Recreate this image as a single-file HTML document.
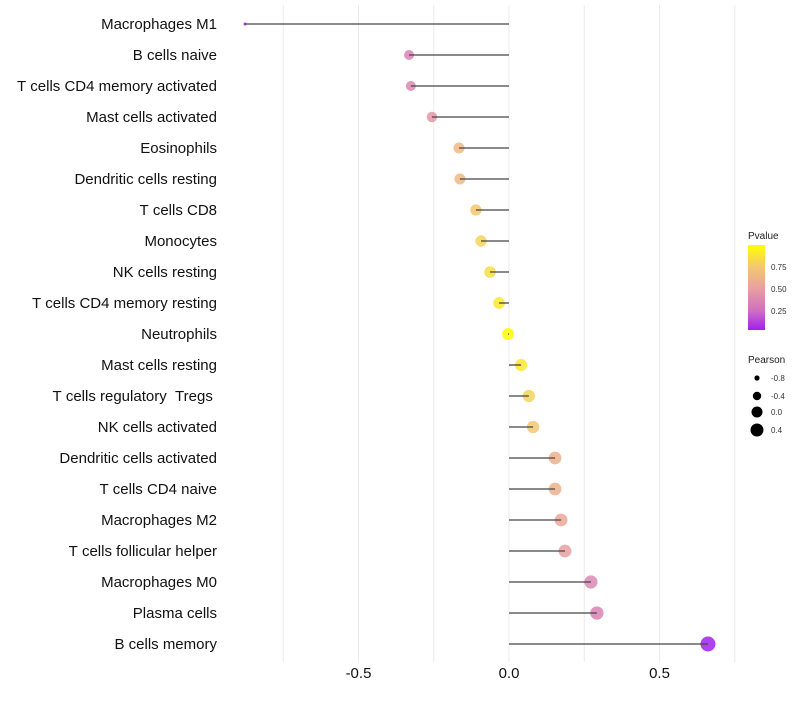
<!DOCTYPE html>
<html><head><meta charset="utf-8"><style>
body{margin:0;background:#fff;font-family:"Liberation Sans",sans-serif}
svg text{font-family:"Liberation Sans",sans-serif;white-space:pre}
</style></head><body>
<svg id="c" width="800" height="700" xmlns="http://www.w3.org/2000/svg">
<defs><linearGradient id="pg" x1="0" y1="1" x2="0" y2="0">
<stop offset="0" stop-color="#A020F0"/><stop offset="0.23" stop-color="#D070C0"/><stop offset="0.49" stop-color="#E8A0A0"/><stop offset="0.74" stop-color="#F2C870"/><stop offset="1" stop-color="#FFFF00"/></linearGradient></defs>
<g id="grid"></g><g id="marks"></g><g id="ylab"></g><g id="xlab"></g>
<g>
<text x="748" y="239" font-size="10" fill="#222">Pvalue</text>
<rect x="748" y="245" width="17" height="85" fill="url(#pg)"/>
<text x="771" y="270" font-size="8" fill="#333">0.75</text>
<text x="771" y="292" font-size="8" fill="#333">0.50</text>
<text x="771" y="314" font-size="8" fill="#333">0.25</text>
</g>
<g>
<text x="748" y="363" font-size="10" fill="#222">Pearson</text>
<circle cx="757" cy="378" r="2.6" fill="#000"/><text x="771" y="381" font-size="8" fill="#333">-0.8</text>
<circle cx="757" cy="396" r="4.2" fill="#000"/><text x="771" y="399" font-size="8" fill="#333">-0.4</text>
<circle cx="757" cy="412" r="5.5" fill="#000"/><text x="771" y="415" font-size="8" fill="#333">0.0</text>
<circle cx="757" cy="430" r="6.5" fill="#000"/><text x="771" y="433" font-size="8" fill="#333">0.4</text>
</g>
</svg>
<script>
const categories=["Macrophages M1","B cells naive","T cells CD4 memory activated","Mast cells activated","Eosinophils","Dendritic cells resting","T cells CD8","Monocytes","NK cells resting","T cells CD4 memory resting","Neutrophils","Mast cells resting","T cells regulatory  Tregs ","NK cells activated","Dendritic cells activated","T cells CD4 naive","Macrophages M2","T cells follicular helper","Macrophages M0","Plasma cells","B cells memory"];
const pearson=[-0.877,-0.332,-0.326,-0.256,-0.166,-0.163,-0.110,-0.093,-0.063,-0.033,-0.003,0.040,0.066,0.080,0.153,0.153,0.173,0.186,0.272,0.292,0.661];
const pvalue=[0.0,0.35,0.37,0.45,0.65,0.65,0.75,0.8,0.85,0.9,0.99,0.9,0.8,0.75,0.6,0.6,0.55,0.5,0.37,0.35,0.03];
const xTicks=[-0.5,0,0.5];
const xTickLabels=["-0.5","0.0","0.5"];
const gridVals=[-0.75,-0.5,-0.25,0,0.25,0.5,0.75];
const NS="http://www.w3.org/2000/svg";
const x=v=>509+v*301;
const y=i=>24+i*31;
const rk=[[-0.9,1.4],[-0.33,5],[0,6],[0.7,7.6]];
function rad(v){if(v<=rk[0][0])return rk[0][1];for(let k=1;k<rk.length;k++){if(v<=rk[k][0]){const a=rk[k-1],b=rk[k];return a[1]+(b[1]-a[1])*(v-a[0])/(b[0]-a[0]);}}return rk[rk.length-1][1];}
const stops=[[0.03,[160,32,240]],[0.25,[208,112,192]],[0.5,[232,160,160]],[0.75,[242,200,112]],[1,[255,255,0]]];
function col(p){if(p<=stops[0][0])return"rgb("+stops[0][1]+")";for(let k=1;k<stops.length;k++){if(p<=stops[k][0]){const a=stops[k-1],b=stops[k],t=(p-a[0])/(b[0]-a[0]);return"rgb("+a[1].map((c,j)=>Math.round(c+(b[1][j]-c)*t)).join(",")+")";}}return"rgb(255,255,0)";}
function mk(t,a,p){const e=document.createElementNS(NS,t);for(const k in a)e.setAttribute(k,a[k]);p.appendChild(e);return e;}
const G=document.getElementById("grid"),M=document.getElementById("marks"),YL=document.getElementById("ylab"),XL=document.getElementById("xlab");
gridVals.forEach(v=>{const l=mk("line",{x1:x(v),x2:x(v),y1:5,y2:662,stroke:"#ebebeb","stroke-width":1},G);

});
categories.forEach((c,i)=>{
const cir=mk("circle",{cx:x(pearson[i]),cy:y(i),r:rad(pearson[i]),fill:col(pvalue[i]),"fill-opacity":0.85},M);


const seg=mk("line",{x1:x(0),x2:x(pearson[i]),y1:y(i),y2:y(i),stroke:"#444","stroke-width":1.3},M);


const t=mk("text",{x:217,y:y(i)+5,"text-anchor":"end","font-size":15,fill:"#111"},YL);t.textContent=c.replace(/ /g,"\u00a0");


});
xTicks.forEach((v,i)=>{const t=mk("text",{x:x(v),y:678,"text-anchor":"middle","font-size":15,fill:"#111"},XL);t.textContent=xTickLabels[i];

});
</script>
</body></html>
